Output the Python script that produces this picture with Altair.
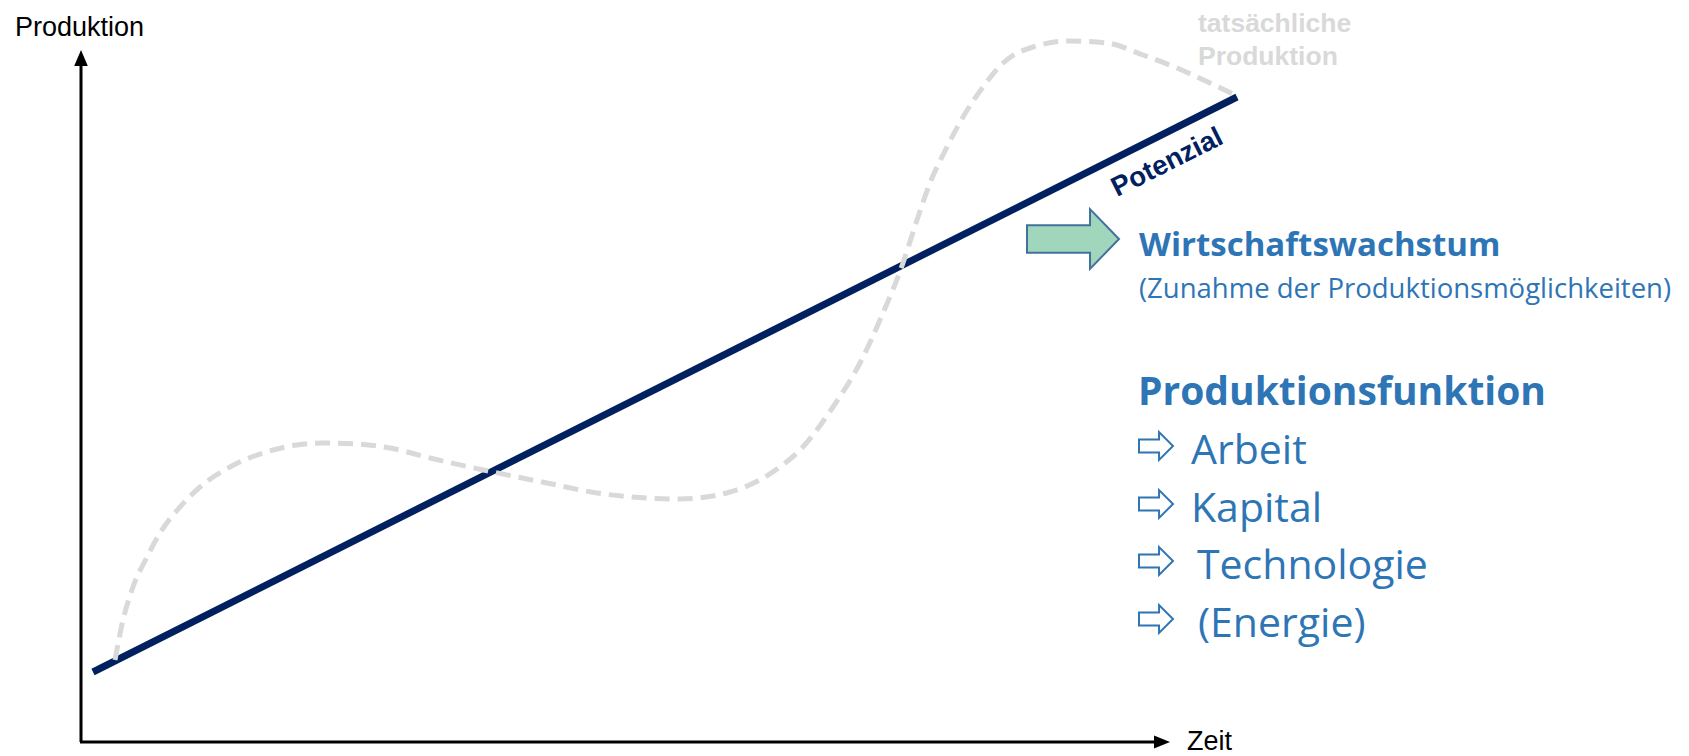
import altair as alt
import pandas as pd

# ---- data (time t, production p; origin at the axis cross) ----
pot_t = [12, 1156]
pot_p = [70, 645]

act_t = [34, 42, 52, 66, 79, 99, 119, 149, 182, 216, 242, 276, 309, 349, 412, 466, 516, 566,
         599, 649, 684, 699, 719, 752, 779, 802, 822, 836, 849, 866, 882, 902, 922, 952, 989,
         1026, 1062, 1096, 1129, 1156]
act_p = [82, 122, 155, 185, 209, 235, 255, 275, 289, 297, 299, 298, 294, 284, 270, 259, 249, 244,
         243, 250, 265, 275, 292, 335, 379, 429, 479, 522, 559, 595, 625, 655, 679, 695, 701,
         699, 687, 674, 659, 646]

factor_labels = ["Arbeit", "Kapital", "Technologie", "(Energie)"]
factor_t = [1110, 1110, 1116, 1117]
factor_p = [278, 220, 163, 105]
factor_arrow_p = [296, 238, 181, 123]

W, H = 1673, 748
NAVY = "#002060"
GRAY = "#D9D9D9"
BLUE = "#2E75B6"

xs = alt.Scale(domain=[-73, 1600], nice=False, zero=False)
ys = alt.Scale(domain=[-14, 734], nice=False, zero=False)


def enc(chart, **kw):
    return chart.encode(x=alt.X("t:Q", scale=xs, axis=None),
                        y=alt.Y("p:Q", scale=ys, axis=None), **kw)


# axes
axes_df = pd.DataFrame({"t": [0, -1], "p": [0, 0], "t2": [0, 1081], "p2": [682, 0]})
axes = enc(alt.Chart(axes_df).mark_rule(color="black", strokeWidth=3),
           x2="t2:Q", y2="p2:Q")

up_tri = enc(alt.Chart(pd.DataFrame({"t": [0], "p": [684]})).mark_point(
    shape="M0,-1L-0.85,1L0.85,1Z", size=256, filled=True, color="black", opacity=1))
right_tri = enc(alt.Chart(pd.DataFrame({"t": [1081], "p": [0]})).mark_point(
    shape="M1,0L-1,-0.8L-1,0.8Z", size=256, filled=True, color="black", opacity=1))

# potential line
pot = enc(alt.Chart(pd.DataFrame({"t": pot_t, "p": pot_p})).mark_line(
    color=NAVY, strokeWidth=7, strokeCap="butt"))

# actual production
act = enc(alt.Chart(pd.DataFrame({"t": act_t, "p": act_p})).mark_line(
    color=GRAY, strokeWidth=5, strokeDash=[15, 8], interpolate="monotone", strokeCap="butt"))

# axis titles
axis_txt = enc(alt.Chart(pd.DataFrame({"t": [-66, 1106], "p": [706, -8],
                                       "label": ["Produktion", "Zeit"]})).mark_text(
    align="left", baseline="alphabetic", font="Liberation Sans", fontSize=27, color="black"),
    text="label:N")

# gray label
gray_txt = enc(alt.Chart(pd.DataFrame({"t": [1117, 1117], "p": [710, 677],
                                       "label": ["tatsächliche", "Produktion"]})).mark_text(
    align="left", baseline="alphabetic", font="Liberation Sans", fontSize=26.5,
    fontWeight="bold", color=GRAY), text="label:N")

# Potenzial label
pot_txt = enc(alt.Chart(pd.DataFrame({"t": [1090], "p": [572], "label": ["Potenzial"]})).mark_text(
    align="center", baseline="alphabetic", angle=333.3, font="Liberation Sans", fontSize=27.5,
    fontWeight="bold", color=NAVY), text="label:N")

# green block arrow
green = enc(alt.Chart(pd.DataFrame({"t": [992], "p": [503]})).mark_point(
    shape="M-1,-0.3L0.37,-0.3L0.37,-0.65L1,0L0.37,0.65L0.37,0.3L-1,0.3Z", size=8464,
    filled=True, fill="#A0D6BC", stroke="#41719C", strokeWidth=2, opacity=1))

ww_txt = enc(alt.Chart(pd.DataFrame({"t": [1058], "p": [486], "label": ["Wirtschaftswachstum"]})).mark_text(
    align="left", baseline="alphabetic", font="Open Sans", fontSize=33, fontWeight="bold", color=BLUE),
    text="label:N")
zu_txt = enc(alt.Chart(pd.DataFrame({"t": [1058], "p": [444],
                                     "label": ["(Zunahme der Produktionsmöglichkeiten)"]})).mark_text(
    align="left", baseline="alphabetic", font="Open Sans", fontSize=27.5, color=BLUE),
    text="label:N")
pf_txt = enc(alt.Chart(pd.DataFrame({"t": [1057], "p": [337], "label": ["Produktionsfunktion"]})).mark_text(
    align="left", baseline="alphabetic", font="Open Sans", fontSize=39, fontWeight="bold", color=BLUE),
    text="label:N")

fac_txt = enc(alt.Chart(pd.DataFrame({"t": factor_t, "p": factor_p, "label": factor_labels})).mark_text(
    align="left", baseline="alphabetic", font="Open Sans", fontSize=41, color=BLUE),
    text="label:N")
fac_arrows = enc(alt.Chart(pd.DataFrame({"t": [1075] * 4, "p": factor_arrow_p})).mark_point(
    shape="M-1,-0.38L0.18,-0.38L0.18,-0.82L1,0L0.18,0.82L0.18,0.38L-1,0.38Z", size=1156,
    filled=True, fill="white", stroke=BLUE, strokeWidth=2, opacity=1))

chart = alt.layer(
    axes, up_tri, right_tri, pot, act, axis_txt, gray_txt, pot_txt, green,
    ww_txt, zu_txt, pf_txt, fac_txt, fac_arrows
).properties(
    width=W, height=H, padding=0, autosize=alt.AutoSizeParams(type="none")
).configure_view(stroke=None)

chart.save("out.html", embed_options={"renderer": "svg", "actions": False})
